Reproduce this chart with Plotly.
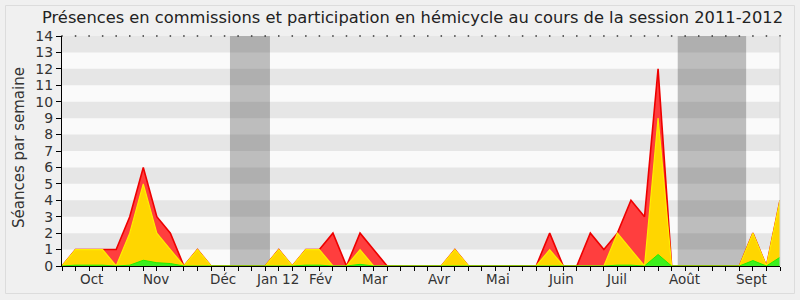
import plotly.graph_objects as go

# ---- data (weekly values, session 2011-2012) ----
weeks = list(range(54))
total = [0, 1, 1, 1, 1, 3, 6, 3, 2, 0,
         1, 0, 0, 0, 0, 0, 1, 0, 1, 1,
         2, 0, 2, 1, 0, 0, 0, 0, 0, 1,
         0, 0, 0, 0, 0, 0, 2, 0, 0, 2,
         1, 2, 4, 3, 12, 0, 0, 0, 0, 0,
         0, 2, 0, 4]
hemicycle = [0, 1, 1, 1, 0, 2, 5, 2, 1, 0,
             1, 0, 0, 0, 0, 0, 1, 0, 1, 1,
             0, 0, 1, 0, 0, 0, 0, 0, 0, 1,
             0, 0, 0, 0, 0, 0, 1, 0, 0, 0,
             0, 2, 1, 0, 9, 0, 0, 0, 0, 0,
             0, 2, 0, 4]
interventions = [0, 0.05, 0.05, 0.05, 0, 0.05, 0.35, 0.2, 0.15, 0,
                 0, 0, 0, 0, 0, 0, 0.03, 0, 0.05, 0.05,
                 0, 0, 0.1, 0, 0, 0, 0, 0, 0, 0.03,
                 0, 0, 0, 0, 0, 0, 0.03, 0, 0, 0,
                 0, 0.05, 0.05, 0, 0.7, 0, 0, 0, 0, 0,
                 0, 0.33, 0, 0.53]
month_labels = ["Oct", "Nov", "Déc", "Jan 12", "Fév", "Mar", "Avr", "Mai",
                "Juin", "Juil", "Août", "Sept"]
month_pos = [2.16, 6.93, 11.92, 15.93, 19.1, 23.1, 27.85, 32.15,
             36.87, 40.93, 45.97, 50.93]
holidays = [(12.4, 15.35), (45.45, 50.5)]

W, H = 800, 300
L, R, T, B = 62, 20, 36, 34
PW, PH = W - L - R, H - T - B


def px_x(px):
    return (px - L) / PW


def px_y(py):
    return (H - B - py) / PH


FONT = "DejaVu Sans"
fig = go.Figure()

fig.add_trace(go.Scatter(x=weeks, y=total, mode="lines", fill="tozeroy",
                         line=dict(color="#ee0000", width=1.6),
                         fillcolor="#ff3e3e", hoverinfo="skip"))
fig.add_trace(go.Scatter(x=weeks, y=hemicycle, mode="lines", fill="tozeroy",
                         line=dict(color="#ffee00", width=1.2),
                         fillcolor="#ffd600", hoverinfo="skip"))
fig.add_trace(go.Scatter(x=weeks, y=interventions, mode="lines", fill="tozeroy",
                         line=dict(color="#22ee00", width=1),
                         fillcolor="#3cf01e", hoverinfo="skip"))
# top dotted week marks
fig.add_trace(go.Scatter(x=weeks, y=[14] * len(weeks), mode="markers",
                         marker=dict(symbol="square", size=1.5, color="#333333",
                                     line=dict(width=0)),
                         cliponaxis=False, hoverinfo="skip"))

shapes = []
for k in range(1, 14, 2):
    shapes.append(dict(type="rect", xref="paper", yref="y", x0=0, x1=1,
                       y0=k, y1=k + 1, fillcolor="#e6e6e6",
                       line=dict(width=0), layer="below"))
for a, b in holidays:
    shapes.append(dict(type="rect", xref="x", yref="paper", x0=a, x1=b,
                       y0=0, y1=1, fillcolor="rgba(50,50,50,0.3)",
                       line=dict(width=0), layer="below"))
# outer frame
shapes.append(dict(type="rect", xref="paper", yref="paper",
                   x0=px_x(5.5), x1=px_x(794.5), y0=px_y(293.5), y1=px_y(5.5),
                   line=dict(color="#dcdcdc", width=1), fillcolor="rgba(0,0,0,0)",
                   layer="below"))
# right border of plot
shapes.append(dict(type="line", xref="paper", yref="paper", x0=1, x1=1,
                   y0=0, y1=1, line=dict(color="#d0d0d0", width=1)))

annotations = []
for lab, pos in zip(month_labels, month_pos):
    annotations.append(dict(x=pos, xref="x", y=px_y(279), yref="paper",
                            text=lab, showarrow=False, xanchor="center",
                            yanchor="middle",
                            font=dict(family=FONT, size=13.5, color="#333333")))
annotations.append(dict(x=px_x(412), xref="paper", y=px_y(17), yref="paper",
                        text="Présences en commissions et participation en hémicycle au cours de la session 2011-2012",
                        showarrow=False, xanchor="center", yanchor="middle",
                        font=dict(family=FONT, size=16.3, color="#222222")))
annotations.append(dict(x=px_x(19), xref="paper", y=px_y(148), yref="paper",
                        text="Séances par semaine", textangle=-90,
                        showarrow=False, xanchor="center", yanchor="middle",
                        font=dict(family=FONT, size=15, color="#333333")))

fig.update_layout(
    width=W, height=H, margin=dict(l=L, r=R, t=T, b=B),
    paper_bgcolor="#f0f0f0", plot_bgcolor="#fafafa",
    showlegend=False, shapes=shapes, annotations=annotations,
    xaxis=dict(range=[0, 53], tickvals=weeks, showticklabels=False,
               ticks="outside", ticklen=4, tickcolor="#000000", tickwidth=1,
               showline=True, linecolor="#000000", linewidth=1,
               showgrid=False, zeroline=False, fixedrange=True),
    yaxis=dict(range=[0, 14], dtick=1, tick0=0, ticks="outside", ticklen=5,
               tickcolor="#000000", tickwidth=1, showline=True,
               linecolor="#000000", linewidth=1, showgrid=False,
               zeroline=False, fixedrange=True,
               tickfont=dict(family=FONT, size=14, color="#333333")),
)

fig.write_html("out.html")
